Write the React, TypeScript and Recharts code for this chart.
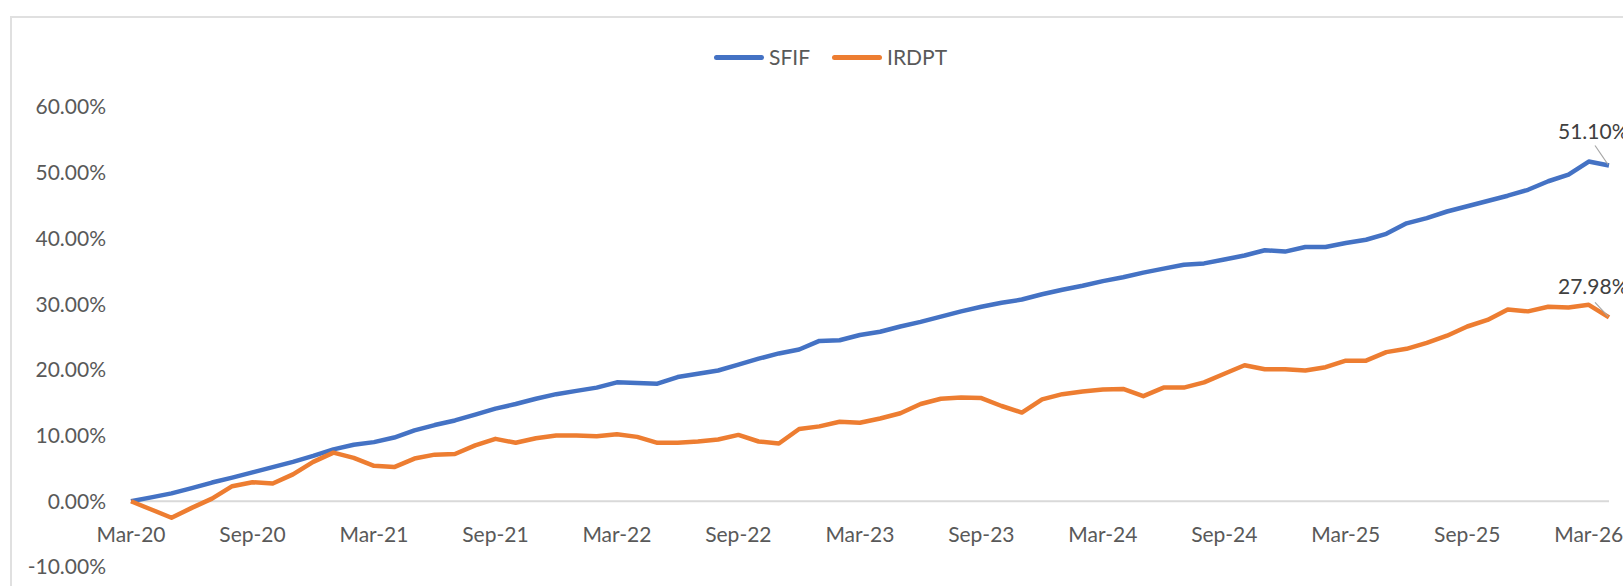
import React from 'react';
import { LineChart, Line, XAxis, YAxis, ReferenceLine, Legend, LabelList } from 'recharts';

// month index 0 = base (end Feb-20), then month-ends up to Mar-26
const tickMonths = [0, 6, 12, 18, 24, 30, 36, 42, 48, 54, 60, 66, 72];
const tickLabels = ['Mar-20', 'Sep-20', 'Mar-21', 'Sep-21', 'Mar-22', 'Sep-22', 'Mar-23', 'Sep-23', 'Mar-24', 'Sep-24', 'Mar-25', 'Sep-25', 'Mar-26'];
const yTicks = [-10, 0, 10, 20, 30, 40, 50, 60];
const seriesOrder = ['SFIF', 'IRDPT'];

const sfif = [
  0, 0.6, 1.2, 2.0, 2.85, 3.6, 4.4, 5.2, 6.0, 6.9, 7.9, 8.6, 9.0, 9.7, 10.8, 11.6, 12.3, 13.2, 14.1, 14.8,
  15.6, 16.3, 16.8, 17.3, 18.1, 18.0, 17.9, 18.9, 19.4, 19.9, 20.8, 21.7, 22.5, 23.1, 24.4, 24.5, 25.3, 25.8,
  26.6, 27.3, 28.1, 28.9, 29.6, 30.2, 30.7, 31.5, 32.2, 32.8, 33.5, 34.1, 34.8, 35.4, 36.0, 36.2, 36.8, 37.4,
  38.2, 38.0, 38.7, 38.7, 39.3, 39.8, 40.7, 42.3, 43.1, 44.1, 44.9, 45.7, 46.5, 47.4, 48.7, 49.7, 51.7, 51.1,
];

const irdpt = [
  0, -1.25, -2.5, -1.0, 0.4, 2.3, 2.9, 2.7, 4.1, 6.0, 7.4, 6.6, 5.4, 5.2, 6.5, 7.1, 7.2, 8.5, 9.5, 8.9,
  9.6, 10.0, 10.0, 9.9, 10.2, 9.8, 8.9, 8.9, 9.1, 9.4, 10.1, 9.1, 8.8, 11.0, 11.4, 12.1, 11.95, 12.6,
  13.4, 14.8, 15.6, 15.8, 15.7, 14.5, 13.5, 15.5, 16.3, 16.7, 17.0, 17.1, 16.0, 17.3, 17.3, 18.1, 19.4, 20.7,
  20.1, 20.1, 19.9, 20.4, 21.4, 21.4, 22.7, 23.2, 24.1, 25.2, 26.6, 27.6, 29.2, 28.9, 29.6, 29.5, 29.9, 27.98,
];

const chartData = sfif.map((v, i) => ({ m: i, SFIF: v, IRDPT: irdpt[i] }));
const lastIndex = chartData.length - 1;

const FONT = 'Lato, "Open Sans", sans-serif';

const XTick = (props: any) => {
  const { x, y, payload } = props;
  const label = tickLabels[tickMonths.indexOf(payload.value)];
  // labels sit just under the 0% line, not at the bottom of the plot
  return (
    <text x={x} y={y - 34} textAnchor="middle" dominantBaseline="central" fill="#595959" fontSize={21} fontFamily={FONT}>
      {label}
    </text>
  );
};

const endLabel = (dy: number, leadY: number) => (props: any) => {
  const { x, y, index, value } = props;
  if (index !== lastIndex) return null;
  return (
    <g>
      <line x1={x - 14} y1={y - leadY} x2={x - 1} y2={y - 1} stroke="#a6a6a6" strokeWidth={1.2} />
      <text x={x - 51} y={y + dy} dominantBaseline="central" fill="#404040" fontSize={21} fontFamily={FONT}>
        {Number(value).toFixed(2)}%
      </text>
    </g>
  );
};

const renderLegend = (props: any) => {
  const items = [...(props.payload || [])].sort(
    (a: any, b: any) => seriesOrder.indexOf(a.value) - seriesOrder.indexOf(b.value)
  );
  return (
    <div style={{ display: 'flex', alignItems: 'center', fontFamily: FONT }}>
      {items.map((p: any) => (
        <div key={p.value} style={{ display: 'flex', alignItems: 'center', marginRight: 22 }}>
          <div style={{ width: 50, height: 5, borderRadius: 3, background: p.color, marginRight: 5 }} />
          <span style={{ fontSize: 21, lineHeight: '26px', color: '#595959' }}>{p.value}</span>
        </div>
      ))}
    </div>
  );
};

export default function App() {
  return (
    <div style={{ position: 'fixed', left: 0, top: 0, width: 1623, height: 586, overflow: 'hidden', background: '#fff', fontFamily: FONT }}>
      <div
        style={{
          position: 'absolute',
          left: 10,
          top: 16,
          width: 2000,
          height: 1000,
          borderTop: '2px solid #e0e0e0',
          borderLeft: '2px solid #e0e0e0',
        }}
      />
      <div style={{ position: 'absolute', left: 0, top: 0 }}>
        <LineChart width={1623} height={586} data={chartData} margin={{ top: 107, right: 14, bottom: 0, left: 0 }}>
          <XAxis
            dataKey="m"
            type="number"
            domain={[0, lastIndex]}
            ticks={tickMonths}
            interval={0}
            axisLine={false}
            tickLine={false}
            tickSize={0}
            tickMargin={0}
            height={19}
            tick={<XTick />}
          />
          <YAxis
            type="number"
            domain={[-10, 60]}
            ticks={yTicks}
            interval={0}
            allowDataOverflow
            axisLine={false}
            tickLine={false}
            tickSize={0}
            tickMargin={25}
            width={131}
            tick={{ fill: '#595959', fontSize: 21, fontFamily: FONT }}
            tickFormatter={(v: number) => `${v.toFixed(2)}%`}
          />
          <ReferenceLine y={0} stroke="#d9d9d9" strokeWidth={2} />
          <Legend
            layout="horizontal"
            verticalAlign="middle"
            align="center"
            content={renderLegend}
            wrapperStyle={{ top: 44, left: 714, width: 300, height: 26 }}
          />
          <Line
            type="linear"
            dataKey="SFIF"
            stroke="#4472C4"
            strokeWidth={4.5}
            strokeLinejoin="round"
            dot={false}
            isAnimationActive={false}
          >
            <LabelList dataKey="SFIF" content={endLabel(-35, 20)} />
          </Line>
          <Line
            type="linear"
            dataKey="IRDPT"
            stroke="#ED7D31"
            strokeWidth={4.5}
            strokeLinejoin="round"
            dot={false}
            isAnimationActive={false}
          >
            <LabelList dataKey="IRDPT" content={endLabel(-31.5, 15)} />
          </Line>
        </LineChart>
      </div>
    </div>
  );
}
